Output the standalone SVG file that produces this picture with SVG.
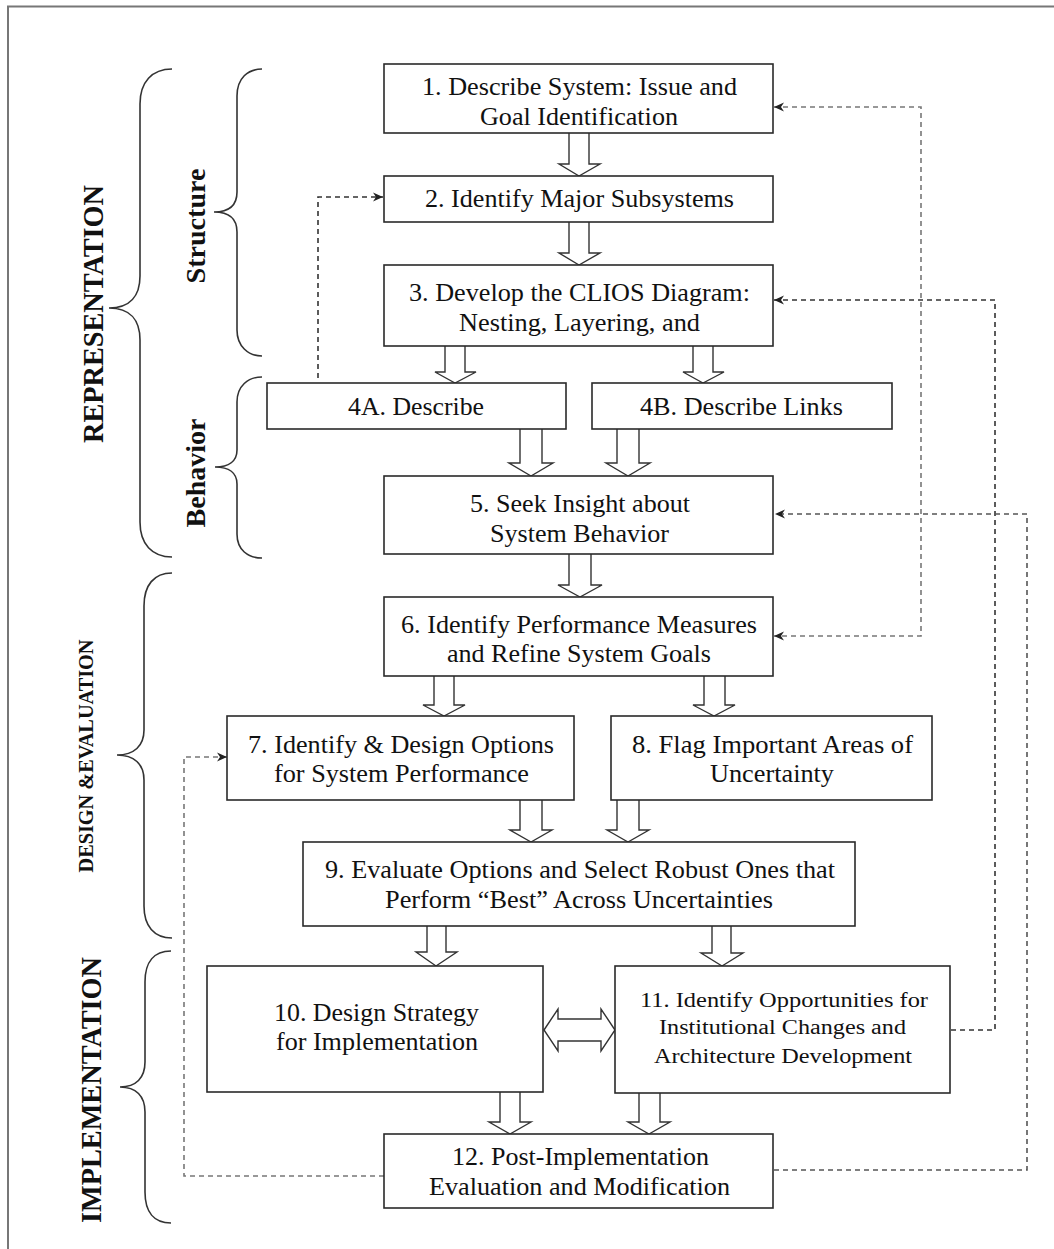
<svg xmlns="http://www.w3.org/2000/svg" width="1054" height="1249" viewBox="0 0 1054 1249">
  <style>
    .box { fill: #fff; stroke: #2a2a2a; stroke-width: 1.6; }
    .t { font-family: "Liberation Serif", "Times New Roman", serif; font-size: 25px; fill: #111; text-anchor: middle; }
    .ts { font-size: 20px; }
    .lbl { font-family: "Liberation Serif", "Times New Roman", serif; font-weight: bold; fill: #111; text-anchor: middle; }
    .brace { fill: none; stroke: #333; stroke-width: 1.6; }
    .blk { fill: #fff; stroke: #333; stroke-width: 1.4; stroke-linejoin: miter; }
    .dash { fill: none; stroke: #555; stroke-width: 1.6; stroke-dasharray: 5 4; }
    .dash.dk { stroke: #333; }
    .dash.lt { stroke: #777; }
  </style>
  <defs>
    <marker id="ah" viewBox="0 0 10 10" refX="10" refY="5" markerWidth="10" markerHeight="10" markerUnits="userSpaceOnUse" orient="auto-start-reverse">
      <path d="M0,0.5 L10,5 L0,9.5 L3,5 z" fill="#222"/>
    </marker>
  </defs>

  <!-- page frame -->
  <path d="M8,1249 V6.5 H1054" fill="none" stroke="#777" stroke-width="2"/>

  <!-- phase braces and labels -->
  <g id="phase-representation">
    <path class="brace" d="M172,69 C152,69 140,82 140,104 V276 C140,296 130,308 109,308 C130,308 140,320 140,340 V522 C140,544 152,557 172,557"/>
    <text class="lbl" font-size="30" textLength="258" lengthAdjust="spacingAndGlyphs" transform="translate(103,314) rotate(-90)">REPRESENTATION</text>
  </g>
  <g id="phase-structure">
    <path class="brace" d="M262,69 C248,69 237,78 237,96 V192 C237,205 229,212 214,212 C229,212 237,219 237,232 V330 C237,346 248,356 262,356"/>
    <text class="lbl" font-size="28" textLength="115" lengthAdjust="spacingAndGlyphs" transform="translate(205,226) rotate(-90)">Structure</text>
  </g>
  <g id="phase-behavior">
    <path class="brace" d="M262,377 C248,377 237,386 237,402 V450 C237,461 229,467 215,467 C229,467 237,473 237,484 V534 C237,550 248,558 262,558"/>
    <text class="lbl" font-size="28" textLength="109" lengthAdjust="spacingAndGlyphs" transform="translate(205,473) rotate(-90)">Behavior</text>
  </g>
  <g id="phase-design">
    <path class="brace" d="M172,573 C154,573 144,585 144,606 V730 C144,746 134,755 117,755 C134,755 144,764 144,780 V906 C144,926 154,938 172,938"/>
    <text class="lbl" font-size="20" textLength="233" lengthAdjust="spacingAndGlyphs" transform="translate(93,756) rotate(-90)">DESIGN &amp;EVALUATION</text>
  </g>
  <g id="phase-implementation">
    <path class="brace" d="M171,951 C154,951 145,962 145,982 V1062 C145,1078 136,1087 120,1087 C136,1087 145,1096 145,1112 V1192 C145,1212 154,1223 171,1223"/>
    <text class="lbl" font-size="30" textLength="266" lengthAdjust="spacingAndGlyphs" transform="translate(101,1090) rotate(-90)">IMPLEMENTATION</text>
  </g>

  <!-- connectors -->
  <g id="connectors">
    <!-- hollow block arrows -->
    <path class="blk" d="M569,133 V164 H559 L579,176 L600,164 H589 V133"/>
    <path class="blk" d="M569,222 V253 H559 L579,265 L600,253 H589 V222"/>
    <path class="blk" d="M445,346 V372 H435 L455,383 L476,372 H465 V346"/>
    <path class="blk" d="M693,346 V372 H683 L703,383 L724,372 H713 V346"/>
    <path class="blk" d="M520,429 V463 H509 L531,476 L553,463 H542 V429"/>
    <path class="blk" d="M617,429 V463 H606 L628,476 L650,463 H639 V429"/>
    <path class="blk" d="M569,554 V585 H558 L580,597 L602,585 H591 V554"/>
    <path class="blk" d="M434,676 V705 H423 L444,716 L465,705 H454 V676"/>
    <path class="blk" d="M704,676 V705 H693 L714,716 L735,705 H725 V676"/>
    <path class="blk" d="M520,800 V830 H510 L531,842 L552,830 H542 V800"/>
    <path class="blk" d="M617,800 V830 H607 L628,842 L649,830 H639 V800"/>
    <path class="blk" d="M427,926 V952 H416 L436,966 L457,952 H446 V926"/>
    <path class="blk" d="M712,926 V953 H701 L722,966 L743,953 H731 V926"/>
    <path class="blk" d="M500,1092 V1122 H489 L510,1134 L531,1122 H520 V1092"/>
    <path class="blk" d="M639,1093 V1122 H628 L649,1134 L670,1122 H660 V1093"/>
    <!-- two-way block arrow between 10 and 11 -->
    <path class="blk" d="M544,1030 L558,1009 V1019 H601 V1009 L615,1030 L601,1051 V1041 H558 V1051 Z"/>

    <!-- dashed feedback loops -->
    <path class="dash dk" d="M318,378 V197 H383" marker-end="url(#ah)"/>
    <path class="dash lt" d="M774,107 H921 V636 H774" marker-start="url(#ah)" marker-end="url(#ah)"/>
    <path class="dash dk" d="M951,1030 H995 V300 H774" marker-end="url(#ah)"/>
    <path class="dash" d="M774,1170 H1027 V514 H775" marker-end="url(#ah)"/>
    <path class="dash lt" d="M384,1176 H184 V757 H227" marker-end="url(#ah)"/>
  </g>

  <!-- process steps -->
  <g id="step1">
    <rect class="box" x="384" y="64" width="389" height="69"/>
    <text class="t" x="579.5" y="95" textLength="315" lengthAdjust="spacingAndGlyphs">1. Describe System: Issue and</text>
    <text class="t" x="579" y="125" textLength="198" lengthAdjust="spacingAndGlyphs">Goal Identification</text>
  </g>
  <g id="step2">
    <rect class="box" x="384" y="176" width="389" height="46"/>
    <text class="t" x="579.5" y="207" textLength="309" lengthAdjust="spacingAndGlyphs">2. Identify Major Subsystems</text>
  </g>
  <g id="step3">
    <rect class="box" x="384" y="265" width="389" height="81"/>
    <text class="t" x="579.5" y="301" textLength="341" lengthAdjust="spacingAndGlyphs">3. Develop the CLIOS Diagram:</text>
    <text class="t" x="579.5" y="331" textLength="241" lengthAdjust="spacingAndGlyphs">Nesting, Layering, and</text>
  </g>
  <g id="step4a">
    <rect class="box" x="267" y="383" width="299" height="46"/>
    <text class="t" x="416" y="415" textLength="136" lengthAdjust="spacingAndGlyphs">4A. Describe</text>
  </g>
  <g id="step4b">
    <rect class="box" x="592" y="383" width="300" height="46"/>
    <text class="t" x="741.5" y="415" textLength="203" lengthAdjust="spacingAndGlyphs">4B. Describe Links</text>
  </g>
  <g id="step5">
    <rect class="box" x="384" y="476" width="389" height="78"/>
    <text class="t" x="580" y="512" textLength="220" lengthAdjust="spacingAndGlyphs">5. Seek Insight about</text>
    <text class="t" x="579.5" y="542" textLength="179" lengthAdjust="spacingAndGlyphs">System Behavior</text>
  </g>
  <g id="step6">
    <rect class="box" x="384" y="597" width="389" height="79"/>
    <text class="t" x="579" y="633" textLength="356" lengthAdjust="spacingAndGlyphs">6. Identify Performance Measures</text>
    <text class="t" x="579" y="662" textLength="264" lengthAdjust="spacingAndGlyphs">and Refine System Goals</text>
  </g>
  <g id="step7">
    <rect class="box" x="227" y="716" width="347" height="84"/>
    <text class="t" x="401" y="753" textLength="306" lengthAdjust="spacingAndGlyphs">7. Identify &amp; Design Options</text>
    <text class="t" x="401.5" y="782" textLength="255" lengthAdjust="spacingAndGlyphs">for System Performance</text>
  </g>
  <g id="step8">
    <rect class="box" x="611" y="716" width="321" height="84"/>
    <text class="t" x="772.5" y="753" textLength="281" lengthAdjust="spacingAndGlyphs">8. Flag Important Areas of</text>
    <text class="t" x="772" y="782" textLength="124" lengthAdjust="spacingAndGlyphs">Uncertainty</text>
  </g>
  <g id="step9">
    <rect class="box" x="303" y="842" width="552" height="84"/>
    <text class="t" x="580" y="878" textLength="510" lengthAdjust="spacingAndGlyphs">9. Evaluate Options and Select Robust Ones that</text>
    <text class="t" x="579" y="908" textLength="388" lengthAdjust="spacingAndGlyphs">Perform “Best” Across Uncertainties</text>
  </g>
  <g id="step10">
    <rect class="box" x="207" y="966" width="336" height="126"/>
    <text class="t" x="376.5" y="1021" textLength="205" lengthAdjust="spacingAndGlyphs">10. Design Strategy</text>
    <text class="t" x="377" y="1050" textLength="202" lengthAdjust="spacingAndGlyphs">for Implementation</text>
  </g>
  <g id="step11">
    <rect class="box" x="615" y="966" width="335" height="127"/>
    <text class="t ts" x="784" y="1007" textLength="288" lengthAdjust="spacingAndGlyphs">11. Identify Opportunities for</text>
    <text class="t ts" x="782.5" y="1034" textLength="247" lengthAdjust="spacingAndGlyphs">Institutional Changes and</text>
    <text class="t ts" x="783" y="1063" textLength="258" lengthAdjust="spacingAndGlyphs">Architecture Development</text>
  </g>
  <g id="step12">
    <rect class="box" x="384" y="1134" width="389" height="74"/>
    <text class="t" x="580.5" y="1165" textLength="257" lengthAdjust="spacingAndGlyphs">12. Post-Implementation</text>
    <text class="t" x="579.5" y="1195" textLength="301" lengthAdjust="spacingAndGlyphs">Evaluation and Modification</text>
  </g>
</svg>
